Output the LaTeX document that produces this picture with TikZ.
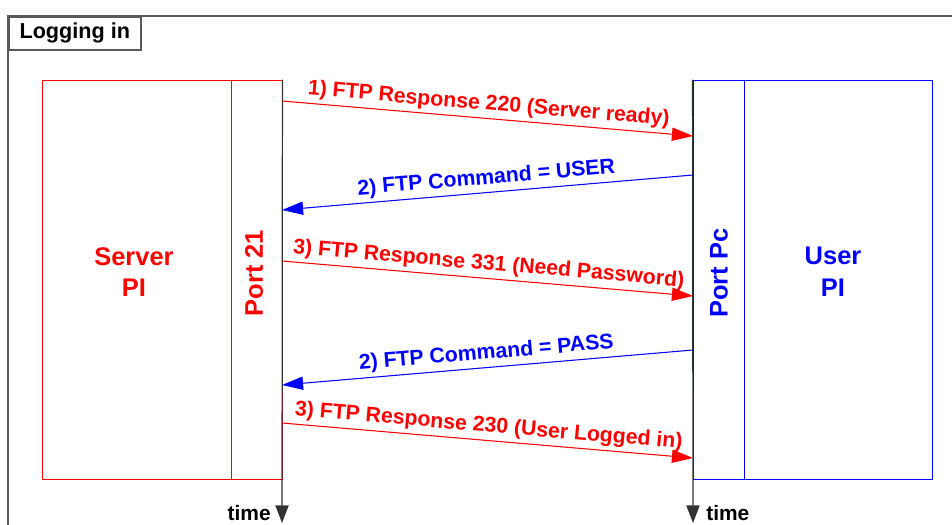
\documentclass[tikz,border=0pt]{standalone}
\usepackage{fontspec}
\setmainfont{Liberation Sans}
\usetikzlibrary{positioning,arrows.meta}

\begin{document}
\begin{tikzpicture}[x=0.02cm, y=-0.02cm,
    pibox/.style={draw=#1, line width=0.5pt, minimum height=7.98cm, inner sep=0pt},
    pitext/.style={text=#1, align=center, font=\fontsize{14.5}{18}\selectfont\bfseries},
    msg/.style={midway, sloped, above=2pt, inner sep=0pt, font=\fontsize{12.1}{14}\selectfont\bfseries},
    resp/.style={red, line width=0.6pt, -{Triangle[length=12pt,width=7.5pt]}},
    cmd/.style={blue, line width=0.6pt, -{Triangle[length=12pt,width=7.5pt]}},
    timeline/.style={black!80, line width=0.7pt, -{Triangle[length=10pt,width=7.5pt]}},
    timelbl/.style={font=\fontsize{11.9}{14}\selectfont\bfseries, inner sep=0pt},
    frame/.style={draw=black!65, line width=0.9pt}]
    \useasboundingbox (0,0) rectangle (952,524);
    \clip (0,0) rectangle (952,524);

    % outer frame and title
    \draw[frame] (8,16) rectangle (1000,600);
    \node[frame, anchor=north west, minimum width=2.64cm, minimum height=0.66cm, inner sep=0pt,
          font=\fontsize{12.3}{14}\selectfont\bfseries] (title) at (8,16) {Logging in};

    % server side
    \node[pibox=red, minimum width=3.78cm] (serverpi) at (136.5,279.5) {};
    \node[pibox=red, minimum width=1.02cm] (port21) at (256.5,279.5) {};
    \node[pitext=red] (serverlbl) at (134,272) {Server\\PI};
    \node[pitext=red, rotate=90] (port21lbl) at (254,273) {Port 21};

    % user side
    \node[pibox=blue, minimum width=1.02cm] (portpc) at (718.5,279.5) {};
    \node[pibox=blue, minimum width=3.76cm] (userpi) at (838,279.5) {};
    \node[pitext=blue] (userlbl) at (833,272) {User\\PI};
    \node[pitext=blue, rotate=90] (portpclbl) at (719,273) {Port Pc};

    % time lines
    \coordinate (end21) at (282,523);
    \coordinate (endpc) at (693,523);
    \draw[timeline] (port21.north east) -- (end21);
    \draw[timeline] (portpc.north west) -- (endpc);
    \node[timelbl, anchor=base east] (time21) at (271,520) {time};
    \node[timelbl, anchor=base west] (timepc) at (706,520) {time};

    % messages
    \coordinate (r1a) at (282,101); \coordinate (r1b) at (693,136);
    \coordinate (c2a) at (693,175); \coordinate (c2b) at (282,210);
    \coordinate (r3a) at (282,261); \coordinate (r3b) at (693,296);
    \coordinate (c4a) at (693,350); \coordinate (c4b) at (282,385);
    \coordinate (r5a) at (282,423); \coordinate (r5b) at (693,458);

    \draw[resp] (r1a) -- node[msg, text=red] {1) FTP Response 220 (Server ready)} (r1b);
    \draw[cmd] (c2a) -- node[msg, text=blue] {2) FTP Command = USER} (c2b);
    \draw[resp] (r3a) -- node[msg, text=red] {3) FTP Response 331 (Need Password)} (r3b);
    \draw[cmd] (c4a) -- node[msg, text=blue] {2) FTP Command = PASS} (c4b);
    \draw[resp] (r5a) -- node[msg, text=red] {3) FTP Response 230 (User Logged in)} (r5b);
\end{tikzpicture}
\end{document}
